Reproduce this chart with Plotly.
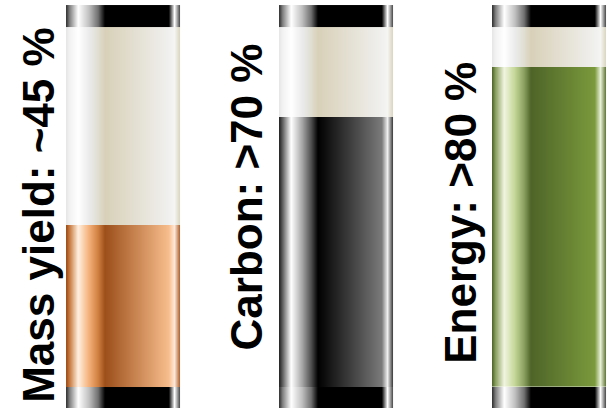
import numpy as np
import plotly.graph_objects as go

# ---- data ----
categories = ["Mass yield", "Carbon", "Energy"]
labels = ["Mass yield: ~45 %", "Carbon: >70 %", "Energy: >80 %"]
fill_values = [45, 75, 89]          # fill level in % of tube
label_y = [47.8, 52.8, 48.4]        # label centre, in the same % scale
label_dx = [-0.395, -0.42, -0.413]  # label offset from tube centre

# ---- styles ----
stops = [0, 0.03, 0.105, 0.2, 0.28, 0.34, 0.9, 0.95, 1.0]
cap_cols = ["#303030", "#808080", "#ffffff", "#c0c0c0", "#707070", "#000000", "#000000", "#ffffff", "#404040"]
cream_cols = ["#e6e6e6", "#f2f2f2", "#ffffff", "#ebebeb", "#e0ded2", "#d8d0b8", "#f0f0ee", "#f5f5f3", "#d8d4bc"]
fill_cols = [
    ["#9a4a15", "#c87a40", "#fff0e0", "#f4b07a", "#d08040", "#9c4f1a", "#f7bd8c", "#ffe8d8", "#a85a25"],
    ["#202020", "#606060", "#ffffff", "#a8a8a8", "#505050", "#000000", "#7a7a7a", "#f0f0f0", "#303030"],
    ["#4e6428", "#8aa060", "#f0f5e0", "#c4d696", "#8aa060", "#4e6428", "#7a9a3c", "#e8f0d8", "#5a7030"],
]
TUBE_W = 0.535
CAP_TOP = (100, 106.1)
CAP_BOT = (-7, 0)
N = 228


def cscale(cols):
    return [[s, c] for s, c in zip(stops, cols)]


fig = go.Figure()


def band(xc, y0, y1, cols):
    xe = xc - TUBE_W / 2 + np.arange(N + 1) * TUBE_W / N
    t = (np.arange(N) + 0.5) / N
    z = t[None, :]
    fig.add_trace(go.Heatmap(x=xe, y=[y0, y1], z=z, zmin=0, zmax=1,
                             colorscale=cscale(cols), showscale=False,
                             hoverinfo="skip", zsmooth=False))


for i, (cat, v) in enumerate(zip(categories, fill_values)):
    band(i, CAP_BOT[0], CAP_BOT[1], cap_cols)
    band(i, 0, v, fill_cols[i])
    band(i, v, 100, cream_cols)
    band(i, CAP_TOP[0], CAP_TOP[1], cap_cols)
    fig.add_annotation(x=i + label_dx[i], y=label_y[i], text="<b>" + labels[i] + "</b>",
                       textangle=-90, showarrow=False,
                       font=dict(family="Liberation Sans, Arial", size=44, color="black"),
                       xanchor="center", yanchor="middle")

fig.update_layout(
    width=608, height=408,
    margin=dict(l=0, r=0, t=0, b=0),
    paper_bgcolor="white", plot_bgcolor="white",
    xaxis=dict(range=[-0.5775, 2.277], visible=False, showgrid=False, zeroline=False),
    yaxis=dict(range=[-5.83, 107.5], visible=False, showgrid=False, zeroline=False),
    showlegend=False,
)
fig.write_html("out.html", config={"displayModeBar": False},
               post_script="document.body.style.margin='0';")
